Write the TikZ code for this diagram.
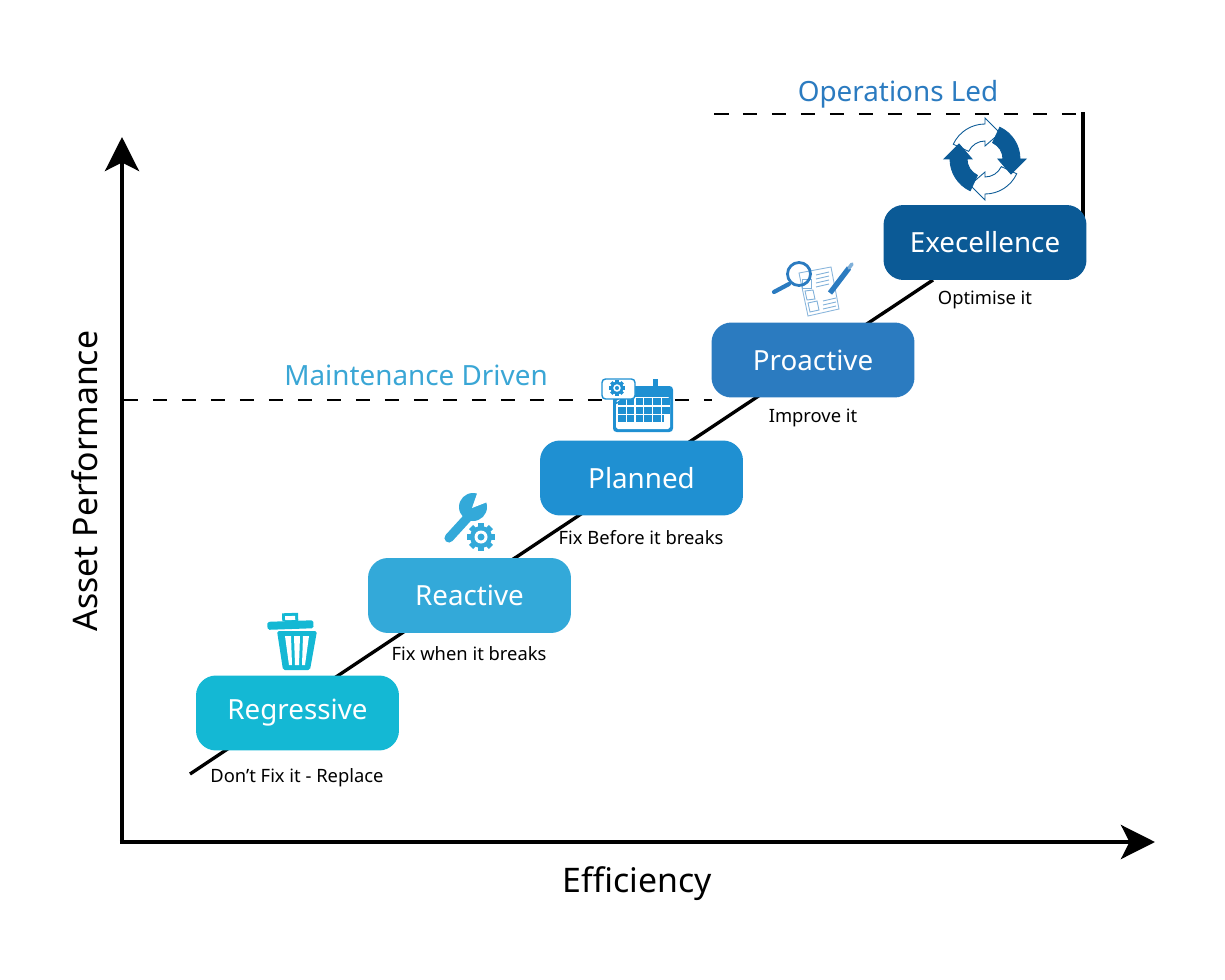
\documentclass[tikz,border=0pt]{standalone}
\usepackage{fontspec}
\setmainfont{Noto Sans}
\usetikzlibrary{arrows.meta}
\definecolor{regcol}{HTML}{14B8D4}
\definecolor{reacol}{HTML}{33A9D9}
\definecolor{placol}{HTML}{1F90D2}
\definecolor{procol}{HTML}{2B7BC0}
\definecolor{execol}{HTML}{0B5A96}
\definecolor{maincol}{HTML}{3AA6D5}
\tikzset{
stage/.style={draw=none, rounded corners=0.4cm, minimum width=4.06cm, minimum height=1.5cm, inner sep=0, text=white, font=\fontsize{15.8}{18}\selectfont},
caption/.style={inner sep=0, font=\fontsize{10.45}{12}\selectfont},
axis/.style={line width=2.3pt, -{Stealth[length=0.68cm, width=0.68cm, inset=0.17cm]}},
headline/.style={inner sep=0, font=\fontsize{15.85}{19}\selectfont},
axislabel/.style={inner sep=0, font=\fontsize{19.25}{24}\selectfont},
guide/.style={line width=0.6pt, dash pattern=on 0.29cm off 0.29cm},
gear/.pic={
  \foreach \a in {0,45,...,135} {
    \fill[pic actions, rotate=\a] (-14,-3) rectangle (14,3);
    }
  \fill[pic actions] (0,0) circle [radius=11];
  \fill[white] (0,0) circle [radius=6.5];
  \fill[pic actions] (0,0) circle [radius=3.5];
  },
trash/.pic={
  \fill[regcol, rotate=2] (-9,-28) rectangle (7,-20);
  \fill[white, rotate=2] (-6,-25) rectangle (4,-21);
  \fill[regcol, rotate=2, rounded corners=1pt] (-24,-20) rectangle (22,-12);
  \fill[regcol, rounded corners=1pt] (-15,-10) -- (25,-10) -- (18,29) -- (-9,29) -- cycle;
  \fill[white] (-7,-5) -- (-1,-5) -- (0,24) -- (-3,24) -- cycle;
  \fill[white] (2,-5) -- (8,-5) -- (7,24) -- (3,24) -- cycle;
  \fill[white] (11,-5) -- (17,-5) -- (13,24) -- (10,24) -- cycle;
  },
wrench/.pic={
  \draw[reacol, line width=5.2pt, line cap=round] (-24,30) -- (-3,7);
  \fill[reacol] (0,-1) circle [radius=14];
  \fill[white] (-1,0) -- (6,-20) -- (22,-9) -- cycle;
  },
calendar/.pic={
  \fill[placol, rounded corners=2pt] (-30,-22) rectangle (30,24);
  \fill[placol] (10,-29) rectangle (15,-20);
  \fill[white, rounded corners=1pt] (-27,-11) rectangle (27,21);
  \foreach \r in {0,1,2} {
    \foreach \c in {0,1,2,3,4,5} {
      \fill[placol] (-25+\c*8.8,-10+\r*8.6) rectangle ++(7.6,7);
      }
    }
  \fill[white] (21,7) rectangle (27,14);
  \draw[placol, line width=0.8pt, fill=white, rounded corners=2pt] (-41,-29) rectangle (-8,-9) -- (-22,-9) -- (-27,-3) -- (-28,-9) -- cycle;
  \pic[fill=placol, scale=0.58] at (-26,-20) {gear};
  },
survey/.pic={
  \draw[procol!55, line width=0.5pt, fill=white] (-18,-16) -- (14,-22) -- (22,20) -- (-9,27) -- cycle;
  \draw[procol!60, line width=0.5pt] (-15,-10) rectangle (-6,-1);
  \draw[procol!60, line width=0.5pt] (-12,2) -- (-4,1) -- (-2,10) -- (-10,11) -- cycle;
  \draw[procol!60, line width=0.5pt] (-9,14) -- (0,12) -- (2,21) -- (-7,23) -- cycle;
  \foreach \y in {-14,-10,-6,-2} {
    \draw[procol!60, line width=0.5pt] (-1,\y) -- (12,\y-3);
    }
  \foreach \y in {12,16,20} {
    \draw[procol!60, line width=0.5pt] (6,\y) -- (19,\y-3);
    }
  \draw[procol, line width=2.4pt, line cap=round] (-43,3) -- (-28,-5);
  \draw[procol, line width=1.6pt] (-18,-15) circle [radius=11.5];
  \draw[procol, line width=3pt] (13,4) -- (32,-21);
  \draw[procol!60, line width=2pt, line cap=round] (32,-21) -- (35,-25);
  },
cycle/.pic={
  \foreach \a/\c in {90/white,270/white,0/execol,180/execol} {
    \draw[execol, line width=0.5pt, fill=\c] (\a-65:18) -- (\a-65:35) arc [start angle=\a-65, end angle=\a, radius=35]
      -- (\a:41) -- (\a+30:30) -- (\a:13) -- (\a:18) arc [start angle=\a, end angle=\a-65, radius=18] -- cycle;
    }
  }
}
\begin{document}
\begin{tikzpicture}[x=0.02cm, y=-0.02cm]
  \useasboundingbox (0,0) rectangle (1225,980);
  \coordinate (origin) at (122,842);
  \coordinate (ytip) at (122,137);
  \coordinate (xtip) at (1155,842);
  \coordinate (lowend) at (190,774);
  \coordinate (topend) at (933,280);
  \coordinate (mainleft) at (124,400);
  \coordinate (mainright) at (712,400);
  \coordinate (opsleft) at (714,114);
  \coordinate (opscorner) at (1083,114);
  \coordinate (opsdrop) at (1083,217);
  \draw[line width=1.9pt] (lowend) -- (topend);
  \draw[axis] ([xshift=-1.15pt]origin) -- (xtip);
  \draw[axis] (origin) -- (ytip);
  \draw[guide] (mainleft) -- (mainright);
  \draw[guide] (opsleft) -- (opscorner);
  \draw[line width=2pt, line cap=rect] (opscorner) -- (opsdrop);

  \node[stage, fill=regcol] (regressive) at (297.5,713) {Regressive};
  \node[stage, fill=reacol] (reactive) at (469.5,595.5) {Reactive};
  \node[stage, fill=placol] (planned) at (641.5,478) {Planned};
  \node[stage, fill=procol] (proactive) at (813,360) {Proactive};
  \node[stage, fill=execol] (excellence) at (985,242.5) {Execellence};

  \node[caption] (regcaption) at (297,778) {Don’t Fix it - Replace};
  \node[caption] (reacaption) at (469,653.5) {Fix when it breaks};
  \node[caption] (placaption) at (641,538) {Fix Before it breaks};
  \node[caption] (procaption) at (813,417.5) {Improve it};
  \node[caption] (execaption) at (985,299.5) {Optimise it};

  \node[headline, text=maincol] (maintenance) at (416,375.5) {Maintenance Driven};
  \node[headline, text=procol] (operations) at (898,94) {Operations Led};
  \node[axislabel] (efficiency) at (637,884) {Efficiency};
  \node[axislabel, rotate=90] (performance) at (85,481) {Asset Performance};

  \pic at (292,641) {trash};
  \pic at (473,508) {wrench};
  \pic[fill=reacol] at (481,537) {gear};
  \pic at (643,408) {calendar};
  \pic at (817,289) {survey};
  \pic at (985,159) {cycle};
\end{tikzpicture}
\end{document}
